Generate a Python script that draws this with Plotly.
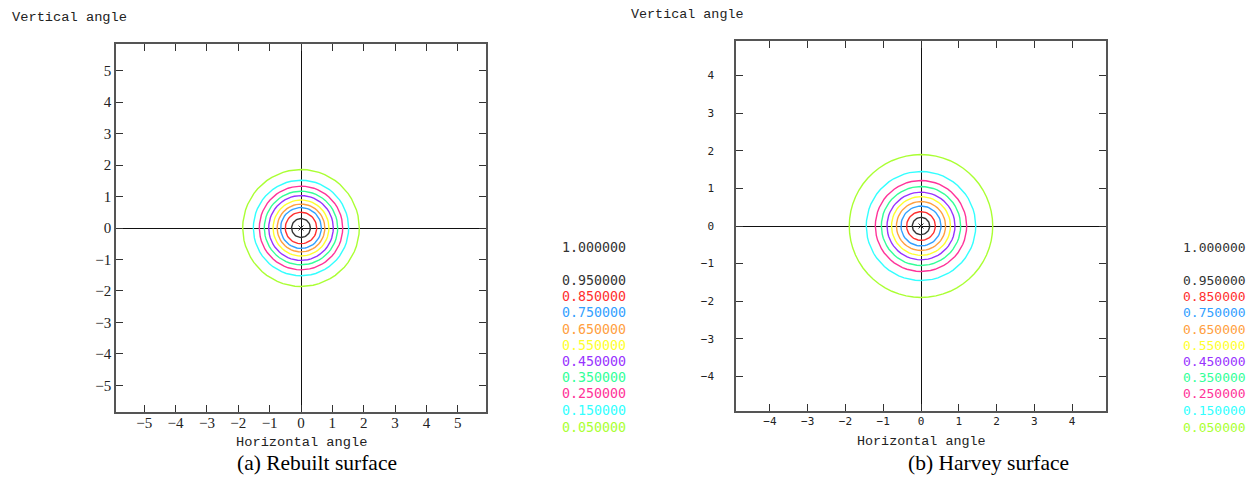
import numpy as np
import plotly.graph_objects as go

W, H = 1253, 477

# ---- data ----
levels = [0.95, 0.85, 0.75, 0.65, 0.55, 0.45, 0.35, 0.25, 0.15, 0.05]
level_labels = ["0.950000", "0.850000", "0.750000", "0.650000", "0.550000",
                "0.450000", "0.350000", "0.250000", "0.150000", "0.050000"]
top_label = "1.000000"
rebuilt_radius = [0.30, 0.50, 0.65, 0.76, 0.89, 1.03, 1.17, 1.33, 1.52, 1.86]
harvey_radius = [0.23, 0.38, 0.53, 0.65, 0.78, 0.90, 1.05, 1.21, 1.45, 1.90]
level_colors = ["#333333", "#ff3030", "#33a0ff", "#ffa040", "#ffff30",
                "#9933ff", "#33ff99", "#ff3399", "#33ffff", "#aaff33"]
rebuilt_ticks = [-5, -4, -3, -2, -1, 0, 1, 2, 3, 4, 5]
harvey_ticks = [-4, -3, -2, -1, 0, 1, 2, 3, 4]

theta = np.linspace(0, 2 * np.pi, 61)

fig = go.Figure()

def add_rings(radii, xa, ya):
    for r, c in zip(radii, level_colors):
        fig.add_trace(go.Scatter(x=r * np.cos(theta), y=r * np.sin(theta),
                                 mode="lines", line=dict(color=c, width=1.4),
                                 xaxis=xa, yaxis=ya, showlegend=False,
                                 hoverinfo="skip"))
    fig.add_trace(go.Scatter(x=[0], y=[0], mode="markers",
                             marker=dict(symbol="x-thin", size=5,
                                         line=dict(color="#333", width=1)),
                             xaxis=xa, yaxis=ya, showlegend=False))

add_rings(rebuilt_radius, "x", "y")
add_rings(harvey_radius, "x2", "y2")

def px2x(p):
    return p / W

def px2y(p):
    return 1 - p / H

axis_common = dict(showgrid=False, showline=True, linecolor="#555555",
                   linewidth=1.5, mirror="ticks", ticks="inside", ticklen=7,
                   tickcolor="#333333", tickwidth=1.2, zeroline=True,
                   zerolinecolor="#111111", zerolinewidth=1.3)

fig.update_layout(
    width=W, height=H, margin=dict(l=0, r=0, t=0, b=0),
    paper_bgcolor="white", plot_bgcolor="white",
    xaxis=dict(domain=[px2x(116), px2x(486)], range=[-5.9, 5.9],
               tickvals=rebuilt_ticks, anchor="y",
               tickfont=dict(family="Liberation Serif", size=15, color="#222"),
               ticklabelstandoff=-4, **axis_common),
    yaxis=dict(domain=[px2y(412), px2y(44)], range=[-5.85, 5.85],
               tickvals=rebuilt_ticks, anchor="x",
               tickfont=dict(family="Liberation Serif", size=15, color="#222"),
               ticklabelstandoff=0, **axis_common),
    xaxis2=dict(domain=[px2x(736), px2x(1106)], range=[-4.9, 4.9],
                tickvals=harvey_ticks, anchor="y2",
                tickfont=dict(family="DejaVu Sans Mono", size=11, color="#222"),
                ticklabelstandoff=-1, **axis_common),
    yaxis2=dict(domain=[px2y(411), px2y(41)], range=[-4.92, 4.92],
                tickvals=harvey_ticks, anchor="x2",
                tickfont=dict(family="DejaVu Sans Mono", size=11, color="#222"),
                ticklabelstandoff=18, **axis_common),
)

ann = []
mono = "Liberation Mono"
# axis titles
ann.append(dict(text="Vertical angle", x=px2x(10), y=px2y(18), xanchor="left",
                yanchor="middle", font=dict(family=mono, size=13.7, color="#222")))
ann.append(dict(text="Vertical angle", x=px2x(629), y=px2y(15), xanchor="left",
                yanchor="middle", font=dict(family=mono, size=13.4, color="#222")))
ann.append(dict(text="Horizontal angle", x=px2x(301), y=px2y(442), xanchor="center",
                yanchor="middle", font=dict(family=mono, size=13.7, color="#222")))
ann.append(dict(text="Horizontal angle", x=px2x(921), y=px2y(441), xanchor="center",
                yanchor="middle", font=dict(family=mono, size=13.4, color="#222")))
# captions
ann.append(dict(text="(a) Rebuilt surface", x=px2x(317), y=px2y(463), xanchor="center",
                yanchor="middle", font=dict(family="Liberation Serif", size=21.5, color="black")))
ann.append(dict(text="(b) Harvey surface", x=px2x(988), y=px2y(463), xanchor="center",
                yanchor="middle", font=dict(family="Liberation Serif", size=21.5, color="black")))

# contour level keys
key_y = [280, 296, 312.5, 329, 345, 361, 377, 393.5, 410, 427]
for xr, fs in ((628, 13.3), (1248, 13)):
    ann.append(dict(text=top_label, x=px2x(xr), y=px2y(248), xanchor="right",
                    yanchor="middle", font=dict(family="DejaVu Sans Mono", size=fs, color="#333")))
    for lab, c, yy in zip(level_labels, level_colors, key_y):
        ann.append(dict(text=lab, x=px2x(xr), y=px2y(yy), xanchor="right",
                        yanchor="middle", font=dict(family="DejaVu Sans Mono", size=fs, color=c)))

for a in ann:
    a.update(xref="paper", yref="paper", showarrow=False)
fig.update_layout(annotations=ann)

fig.write_html("out.html")
